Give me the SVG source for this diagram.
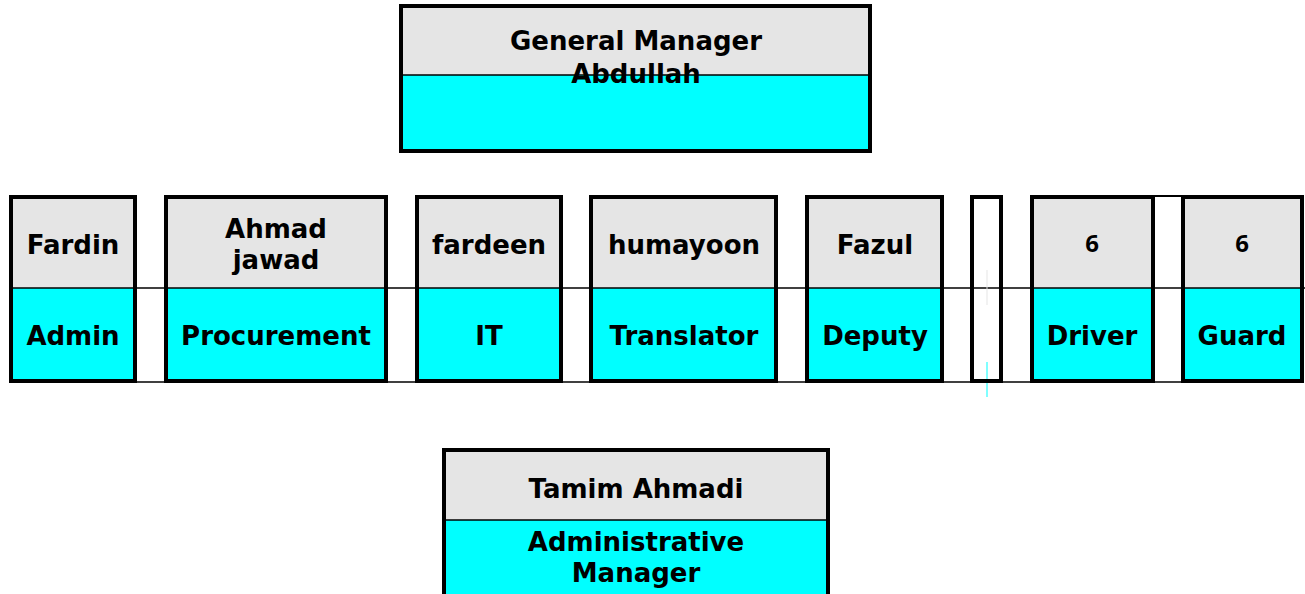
<svg xmlns="http://www.w3.org/2000/svg" width="1305" height="594" viewBox="0 0 1305 594">
<style>
.box{stroke:#000;stroke-width:4}
.g{fill:#e5e5e5}
.c{fill:#00ffff}
.div{stroke:#000;stroke-width:1.5}
.t{font-family:"DejaVu Sans","Liberation Sans",sans-serif;font-weight:bold;font-size:26px;fill:#000;text-anchor:middle}
.n{font-family:"Noto Sans","Open Sans",sans-serif;font-weight:bold;font-size:24px;fill:#000;text-anchor:middle}
</style>
<rect width="1305" height="594" fill="#fff"/>
<g id="connectors">
<line x1="136" y1="288" x2="1305" y2="288" class="div"/>
<line x1="136" y1="382" x2="1183" y2="382" class="div"/>
<line x1="1153" y1="196" x2="1183" y2="196" stroke="#000" stroke-width="2"/>
<line x1="987" y1="270" x2="987" y2="305" stroke="#e5e5e5" stroke-width="1"/>
<line x1="987" y1="362" x2="987" y2="397" stroke="#00ffff" stroke-width="1"/>
</g>
<g id="gm">
<rect x="401" y="6" width="469" height="69" class="g"/>
<rect x="401" y="75" width="469" height="76" class="c"/>
<line x1="401" y1="75" x2="870" y2="75" class="div"/>
<rect x="401" y="6" width="469" height="145" class="box" fill="none"/>
<text x="636" y="50" class="t">General Manager</text>
<text x="636" y="83" class="t">Abdullah</text>
</g>
<g id="fardin">
<rect x="11" y="197" width="124" height="91" class="g"/>
<rect x="11" y="288" width="124" height="93" class="c"/>
<line x1="11" y1="288" x2="135" y2="288" class="div"/>
<rect x="11" y="197" width="124" height="184" class="box" fill="none"/>
<text x="73" y="254" class="t">Fardin</text>
<text x="73" y="345" class="t">Admin</text>
</g>
<g id="ahmad">
<rect x="166" y="197" width="220" height="91" class="g"/>
<rect x="166" y="288" width="220" height="93" class="c"/>
<line x1="166" y1="288" x2="386" y2="288" class="div"/>
<rect x="166" y="197" width="220" height="184" class="box" fill="none"/>
<text x="276" y="238" class="t">Ahmad</text>
<text x="276" y="269" class="t">jawad</text>
<text x="276" y="345" class="t">Procurement</text>
</g>
<g id="fardeen">
<rect x="417" y="197" width="144" height="91" class="g"/>
<rect x="417" y="288" width="144" height="93" class="c"/>
<line x1="417" y1="288" x2="561" y2="288" class="div"/>
<rect x="417" y="197" width="144" height="184" class="box" fill="none"/>
<text x="489" y="254" class="t">fardeen</text>
<text x="489" y="345" class="t">IT</text>
</g>
<g id="humayoon">
<rect x="591" y="197" width="185" height="91" class="g"/>
<rect x="591" y="288" width="185" height="93" class="c"/>
<line x1="591" y1="288" x2="776" y2="288" class="div"/>
<rect x="591" y="197" width="185" height="184" class="box" fill="none"/>
<text x="684" y="254" class="t">humayoon</text>
<text x="684" y="345" class="t">Translator</text>
</g>
<g id="fazul">
<rect x="807" y="197" width="135" height="91" class="g"/>
<rect x="807" y="288" width="135" height="93" class="c"/>
<line x1="807" y1="288" x2="942" y2="288" class="div"/>
<rect x="807" y="197" width="135" height="184" class="box" fill="none"/>
<text x="875" y="254" class="t">Fazul</text>
<text x="875" y="345" class="t">Deputy</text>
</g>
<g id="empty">
<rect x="972" y="197" width="29" height="184" class="box" fill="none"/>
</g>
<g id="driver">
<rect x="1032" y="197" width="121" height="91" class="g"/>
<rect x="1032" y="288" width="121" height="93" class="c"/>
<line x1="1032" y1="288" x2="1153" y2="288" class="div"/>
<rect x="1032" y="197" width="121" height="184" class="box" fill="none"/>
<text x="1092" y="252" class="n">6</text>
<text x="1092" y="345" class="t">Driver</text>
</g>
<g id="guard">
<rect x="1183" y="197" width="119" height="91" class="g"/>
<rect x="1183" y="288" width="119" height="93" class="c"/>
<line x1="1183" y1="288" x2="1302" y2="288" class="div"/>
<rect x="1183" y="197" width="119" height="184" class="box" fill="none"/>
<text x="1242" y="252" class="n">6</text>
<text x="1242" y="345" class="t">Guard</text>
</g>
<g id="tamim">
<rect x="444" y="450" width="384" height="70" class="g"/>
<rect x="444" y="520" width="384" height="80" class="c"/>
<line x1="444" y1="520" x2="828" y2="520" class="div"/>
<rect x="444" y="450" width="384" height="150" class="box" fill="none"/>
<text x="636" y="498" class="t">Tamim Ahmadi</text>
<text x="636" y="551" class="t">Administrative</text>
<text x="636" y="582" class="t">Manager</text>
</g>
</svg>
